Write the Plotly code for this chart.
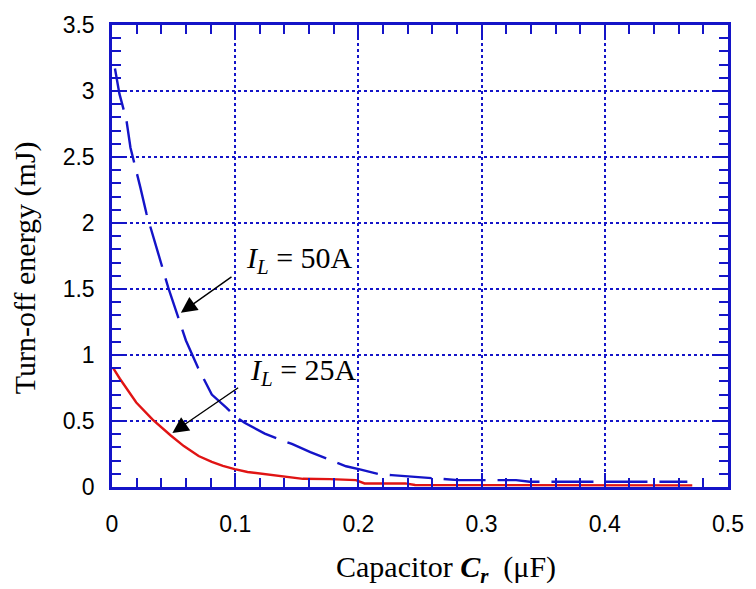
import plotly.graph_objects as go

# 50 A curve (blue, dashed)
x50 = [0.0024, 0.006, 0.0117, 0.015, 0.023, 0.028, 0.0375, 0.046, 0.0557, 0.06, 0.07, 0.081,
       0.093, 0.0996, 0.1076, 0.124, 0.134, 0.146, 0.161, 0.174, 0.19, 0.202, 0.21, 0.217,
       0.227, 0.245, 0.257, 0.281, 0.3, 0.328, 0.339, 0.467]
y50 = [3.17, 2.98, 2.78, 2.57, 2.27, 2.07, 1.77, 1.50, 1.23, 1.11, 0.90, 0.70,
       0.60, 0.537, 0.487, 0.405, 0.368, 0.326, 0.264, 0.214, 0.157, 0.132, 0.114, 0.097,
       0.090, 0.077, 0.065, 0.052, 0.052, 0.052, 0.040, 0.040]

# 25 A curve (red, solid)
x25 = [0.001, 0.0064, 0.0197, 0.033, 0.0477, 0.0583, 0.0703, 0.081, 0.09, 0.0996, 0.11, 0.121,
       0.14, 0.155, 0.177, 0.19, 0.198, 0.205, 0.238, 0.246, 0.471]
y25 = [0.90, 0.82, 0.64, 0.51, 0.39, 0.31, 0.235, 0.19, 0.16, 0.135, 0.114, 0.10,
       0.077, 0.062, 0.060, 0.052, 0.052, 0.027, 0.027, 0.015, 0.012]

x_ticks = [0, 0.1, 0.2, 0.3, 0.4, 0.5]
x_labels = ["0", "0.1", "0.2", "0.3", "0.4", "0.5"]
y_ticks = [0, 0.5, 1, 1.5, 2, 2.5, 3, 3.5]
y_labels = ["0", "0.5", "1", "1.5", "2", "2.5", "3", "3.5"]

BLUE = "#1414C8"
RED = "#E01414"
SERIF = "Liberation Serif, Times New Roman, serif"
SANS = "Liberation Sans, Arial, sans-serif"

fig = go.Figure()
fig.add_trace(go.Scatter(x=x50, y=y50, mode="lines", line=dict(color=BLUE, width=2.4, dash="42px,12px"),
                         showlegend=False))
fig.add_trace(go.Scatter(x=x25, y=y25, mode="lines", line=dict(color=RED, width=2.4),
                         showlegend=False))

axis_common = dict(
    showline=True, linecolor=BLUE, linewidth=2.5, mirror="allticks",
    ticks="inside", ticklen=14, tickwidth=2, tickcolor=BLUE,
    showgrid=True, gridcolor=BLUE, griddash="dot", gridwidth=2,
    zeroline=False,
    tickfont=dict(family=SANS, size=23, color="black"),
)

fig.update_xaxes(range=[0, 0.5], tickvals=x_ticks, ticktext=x_labels, ticklabelstandoff=15,
                 minor=dict(ticks="inside", ticklen=9, tickwidth=2, tickcolor=BLUE, dtick=0.02, showgrid=False),
                 **axis_common)
fig.update_yaxes(range=[0, 3.5], tickvals=y_ticks, ticktext=y_labels, ticklabelstandoff=10,
                 minor=dict(ticks="inside", ticklen=9, tickwidth=2, tickcolor=BLUE, dtick=0.1, showgrid=False),
                 **axis_common)

# axis titles
fig.add_annotation(x=0.5417, y=-0.177, xref="paper", yref="paper", xanchor="center", yanchor="middle",
                   showarrow=False, text="Capacitor <b><i>C</i></b><sub><b><i>r</i></b></sub>  (μF)",
                   font=dict(family=SERIF, size=30, color="black"))
fig.add_annotation(x=-0.141, y=0.474, xref="paper", yref="paper", xanchor="center", yanchor="middle",
                   showarrow=False, textangle=-90, text="Turn-off energy (mJ)",
                   font=dict(family=SERIF, size=30, color="black"))

# arrows
fig.add_annotation(x=0.0559, y=1.32, ax=0.0982, ay=1.60, xref="x", yref="y", axref="x", ayref="y",
                   text="", showarrow=True, arrowhead=2, arrowsize=2.3, arrowwidth=1.4, arrowcolor="black")
fig.add_annotation(x=0.049, y=0.41, ax=0.1036, ay=0.76, xref="x", yref="y", axref="x", ayref="y",
                   text="", showarrow=True, arrowhead=2, arrowsize=2.3, arrowwidth=1.4, arrowcolor="black")
# labels
fig.add_annotation(x=0.107, y=1.72, xref="x", yref="y", xanchor="left", yanchor="middle", showarrow=False,
                   text="<i>I</i><sub><i>L</i></sub> = 50A", font=dict(family=SERIF, size=30, color="black"))
fig.add_annotation(x=0.110, y=0.87, xref="x", yref="y", xanchor="left", yanchor="middle", showarrow=False,
                   text="<i>I</i><sub><i>L</i></sub> = 25A", font=dict(family=SERIF, size=30, color="black"))

fig.update_layout(width=756, height=589, margin=dict(l=112, r=20, t=19, b=102),
                  plot_bgcolor="white", paper_bgcolor="white")

fig.write_html("out.html")
